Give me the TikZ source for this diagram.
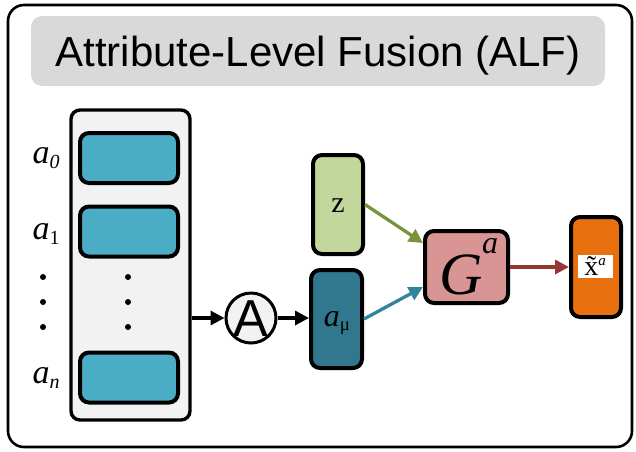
\documentclass[tikz,border=0pt]{standalone}
\usepackage{fontspec}
\setmainfont{Liberation Serif}
\newfontfamily\headfont{Liberation Sans}
\usetikzlibrary{arrows.meta}

\definecolor{framegray}{HTML}{D9D9D9}
\definecolor{panelgray}{HTML}{F2F2F2}
\definecolor{cellblue}{HTML}{4BACC6}
\definecolor{mutealblue}{HTML}{31788F}
\definecolor{zgreen}{HTML}{C3D69B}
\definecolor{gpink}{HTML}{D99594}
\definecolor{outorange}{HTML}{E8700E}
\definecolor{arrgreen}{HTML}{77933C}
\definecolor{arrteal}{HTML}{31849B}
\definecolor{arrred}{HTML}{953734}

\tikzset{
  box/.style={draw=black, line width=4pt, rounded corners=9pt, inner sep=0pt},
  cell/.style={box, fill=cellblue, minimum width=98pt, minimum height=50pt},
  flow/.style={line width=3.3pt, -{Triangle[length=14pt,width=14pt]}},
  dotmark/.style={circle, fill=black, inner sep=0pt, minimum size=6pt},
  lbl/.style={inner sep=0pt, font=\fontsize{34}{34}\selectfont\itshape},
}

\begin{document}
\begin{tikzpicture}[x=1pt,y=-1pt]
\useasboundingbox (0,0) rectangle (636,451);

% outer frame and heading
\draw[line width=2.6pt, rounded corners=16pt] (8,5) rectangle (632,447);
\node[fill=framegray, rounded corners=11pt, minimum width=574pt, minimum height=70pt, inner sep=0pt] (head) at (318,51) {};
\node[anchor=base, inner sep=0pt, font=\headfont\fontsize{42}{42}\selectfont] (title) at (318,66) {Attribute-Level Fusion (ALF)};

% attribute panel
\node[box, line width=3.4pt, fill=panelgray, minimum width=119pt, minimum height=310pt] (panel) at (130.5,265) {};
\node[cell] (c0) at (129,158) {};
\node[cell] (c1) at (129,231.5) {};
\node[cell] (cn) at (129,377.5) {};
\foreach \yy [count=\i] in {277,302,327} {
  \node[dotmark] (pd\i) at (128,\yy) {};
  \node[dotmark] (ld\i) at (43,\yy) {};
}

% attribute labels
\node[lbl] (l0) at (46,158) {a\raisebox{-0.3ex}{\fontsize{20}{20}\selectfont\itshape 0}};
\node[lbl] (l1) at (46,234) {a\raisebox{-0.3ex}{\fontsize{20}{20}\selectfont\upshape 1}};
\node[lbl] (ln) at (46,378) {a\raisebox{-0.3ex}{\fontsize{20}{20}\selectfont\itshape n}};

% aggregation operator
\node[circle, draw=black, line width=3pt, fill=panelgray, minimum size=50pt, inner sep=0pt] (agg) at (251,318) {};
\node[inner sep=0pt, font=\headfont\fontsize{52}{52}\selectfont] (aggA) at (251,318.5) {A};

% latent and mean codes
\node[box, fill=zgreen, minimum width=50pt, minimum height=99pt] (zb) at (338,204.5) {};
\node[inner sep=0pt, font=\fontsize{30}{30}\selectfont] (zl) at (338,206) {z};
\node[box, fill=mutealblue, minimum width=51pt, minimum height=98pt] (mu) at (336.5,319) {};
\node[lbl, font=\fontsize{32}{32}\selectfont\itshape] (mul) at (337,323) {a\raisebox{-0.3ex}{\fontsize{19}{19}\selectfont\upshape μ}};

% generator
\node[box, fill=gpink, minimum width=83pt, minimum height=72pt] (gen) at (466.5,267) {};
\node[inner sep=0pt, font=\fontsize{60}{60}\selectfont\itshape] (genl) at (461,275) {G};
\node[inner sep=0pt, font=\fontsize{32}{32}\selectfont\itshape] (gens) at (490,246) {a};

% generated output
\node[box, fill=outorange, minimum width=50pt, minimum height=100pt] (out) at (596,267) {};
\node[fill=white, minimum width=35pt, minimum height=23pt, inner sep=0pt] (outbg) at (595.5,266.5) {};
\node[inner sep=0pt, font=\fontsize{28}{28}\selectfont] (outl) at (595,266) {\~{x}\raisebox{0.8ex}{\fontsize{15}{15}\selectfont\itshape a}};

% connectors
\draw[flow] (panel.east |- agg.west) -- (agg.west);
\draw[flow] (agg.east) -- (mu.west |- agg.east);
\draw[flow, draw=arrgreen, fill=arrgreen] (zb.east) -- ([yshift=24pt]gen.west);
\draw[flow, draw=arrteal, fill=arrteal] (mu.east) -- ([yshift=-20pt]gen.west);
\draw[flow, draw=arrred, fill=arrred] (gen.east) -- (out.west);
\end{tikzpicture}
\end{document}
